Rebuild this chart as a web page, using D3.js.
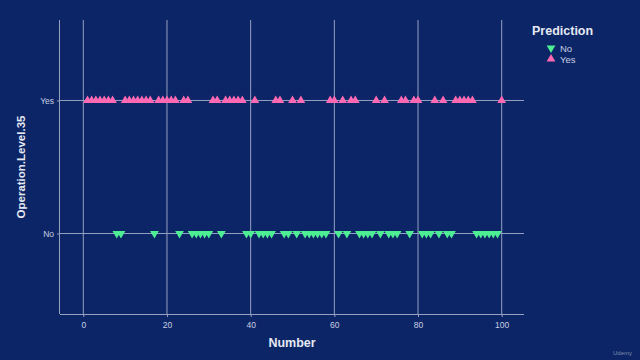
<!DOCTYPE html>
<html>
<head>
<meta charset="utf-8">
<script src="https://cdn.jsdelivr.net/npm/d3@7"></script>
<style>
  html, body { margin: 0; padding: 0; background: #0b2567; }
  svg { display: block; }
</style>
</head>
<body>
<svg id="chart" width="640" height="360"></svg>
<script>
// ---- data ----
const categories = ["No", "Yes"];            // Operation.Level.35 levels
const xTicks = [0, 20, 40, 60, 80, 100];
const yesNumbers = [1,2,3,4,5,6,7,10,11,12,13,14,15,16,18,19,20,21,22,24,25,
  31,32,34,35,36,37,38,41,46,47,50,52,59,60,62,64,65,70,72,76,77,79,80,84,86,
  89,90,91,92,93,100];
const noNumbers = [8,9,17,23,26,27,28,29,30,33,39,40,42,43,44,45,48,49,51,
  53,54,55,56,57,58,61,63,66,67,68,69,71,73,74,75,78,81,82,83,85,87,88,
  94,95,96,97,98,99];
const legendLabels = ["No", "Yes"];

const points = [
  ...yesNumbers.map(n => ({ number: n, level: "Yes", prediction: "Yes" })),
  ...noNumbers.map(n => ({ number: n, level: "No", prediction: "No" }))
];

// ---- layout ----
const W = 640, H = 360;
const plot = { left: 60, right: 524, top: 20, bottom: 314 };
const gridColor = "#97a1c0";
const textColor = "#c9cfe2";
const colors = { No: "#4eee94", Yes: "#ff69b4" };
const font = "'Liberation Sans', Arial, sans-serif";

const svg = d3.select("#chart");
svg.append("rect").attr("width", W).attr("height", H).attr("fill", "#0b2567");

const x = d3.scaleLinear().domain([-5.57, 105.33]).range([plot.left, plot.right]);
const y = d3.scalePoint().domain(categories).range([plot.bottom, plot.top]).padding(0.605);
const color = d3.scaleOrdinal().domain(legendLabels).range([colors.No, colors.Yes]);

// grid
const grid = svg.append("g");
grid.selectAll("line.vx").data(xTicks).join("line")
  .attr("x1", d => x(d)).attr("x2", d => x(d))
  .attr("y1", plot.top).attr("y2", plot.bottom)
  .attr("stroke", gridColor).attr("stroke-width", 1);
grid.selectAll("line.hy").data(categories).join("line")
  .attr("x1", plot.left).attr("x2", plot.right)
  .attr("y1", d => y(d)).attr("y2", d => y(d))
  .attr("stroke", gridColor).attr("stroke-width", 1);

// axes
const xAxis = svg.append("g").attr("transform", `translate(0,${plot.bottom})`)
  .call(d3.axisBottom(x).tickValues(xTicks).tickSize(3).tickPadding(5));
const yAxis = svg.append("g").attr("transform", `translate(${plot.left},0)`)
  .call(d3.axisLeft(y).tickSize(3).tickPadding(3));
[xAxis, yAxis].forEach(g => {
  g.select(".domain").attr("stroke", gridColor).attr("stroke-width", 1);
  g.selectAll(".tick line").attr("stroke", gridColor);
  g.selectAll(".tick text").attr("fill", textColor)
    .attr("font-family", font).attr("font-size", 8.5);
});
yAxis.select(".domain").attr("d", `M-0.5,${plot.top}V${plot.bottom}`);
xAxis.select(".domain").attr("d", `M${plot.left},0.5H${plot.right}`);

// points
const sym = d3.symbol().type(d3.symbolTriangle).size(33);
svg.append("g").selectAll("path").data(points).join("path")
  .attr("d", sym)
  .attr("transform", d => `translate(${x(d.number)},${y(d.level)})` + (d.prediction === "No" ? " rotate(180)" : ""))
  .attr("fill", d => color(d.prediction));

// axis titles
svg.append("text").attr("x", (plot.left + plot.right) / 2).attr("y", 347)
  .attr("text-anchor", "middle").attr("fill", "#e6e9f2")
  .attr("font-family", font).attr("font-weight", "bold").attr("font-size", 12.5)
  .text("Number");
svg.append("text").attr("transform", `translate(25,167) rotate(-90)`)
  .attr("text-anchor", "middle").attr("fill", "#e6e9f2")
  .attr("font-family", font).attr("font-weight", "bold").attr("font-size", 11.5)
  .text("Operation.Level.35");

// legend
const lg = svg.append("g");
lg.append("text").attr("x", 532).attr("y", 35)
  .attr("fill", "#e6e9f2").attr("font-family", font)
  .attr("font-weight", "bold").attr("font-size", 12.5).text("Prediction");
const items = lg.selectAll("g.item").data(legendLabels).join("g")
  .attr("transform", (d, i) => `translate(551,${48 + i * 11})`);
items.append("path").attr("d", sym)
  .attr("transform", d => d === "No" ? "rotate(180)" : "")
  .attr("fill", d => color(d));
items.append("text").attr("x", 9).attr("y", 3.5)
  .attr("fill", textColor).attr("font-family", font).attr("font-size", 9.5)
  .text(d => d);

// watermark
svg.append("text").attr("x", 632).attr("y", 355).attr("text-anchor", "end")
  .attr("fill", "#7f8aa8").attr("font-family", font).attr("font-size", 6)
  .text("Udemy");
</script>
</body>
</html>
